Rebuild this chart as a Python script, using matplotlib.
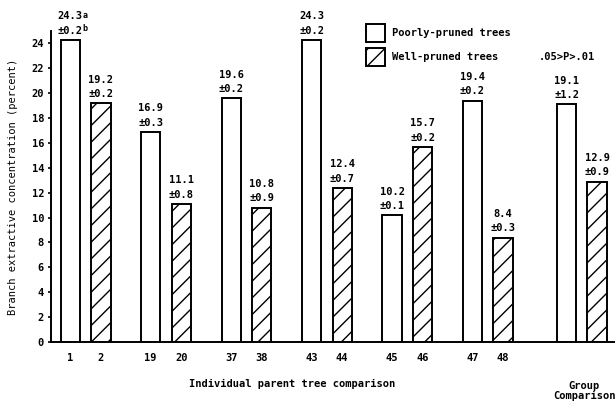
import matplotlib
matplotlib.use("Agg")
import matplotlib.pyplot as plt
import numpy as np
from matplotlib.patches import Patch

plt.rcParams['font.family'] = 'DejaVu Sans Mono'
plt.rcParams['font.weight'] = 'bold'
plt.rcParams['font.size'] = 7.5
plt.rcParams['hatch.linewidth'] = 1.0

# data
poor_ids = ['1', '19', '37', '43', '45', '47']
well_ids = ['2', '20', '38', '44', '46', '48']
poor_vals = [24.3, 16.9, 19.6, 24.3, 10.2, 19.4]
poor_err = [0.2, 0.3, 0.2, 0.2, 0.1, 0.2]
well_vals = [19.2, 11.1, 10.8, 12.4, 15.7, 8.4]
well_err = [0.2, 0.8, 0.9, 0.7, 0.2, 0.3]
group_vals = [19.1, 12.9]
group_err = [1.2, 0.9]

fig = plt.figure(figsize=(6.16, 4.05), dpi=100)
ax = fig.add_axes([51/616, 63/405, 563/616, 311/405])

pair_x = np.arange(len(poor_vals))
group_x = 6.17
off = 0.19
w = 0.24

def bars(xs, vals, errs, hatched):
    ax.bar(xs, vals, width=w, facecolor='white', edgecolor='black',
           linewidth=1.4, hatch='//' if hatched else None)
    for x, v, e in zip(xs, vals, errs):
        ax.annotate(f"{v:.1f}\n±{e:.1f}", (x, v), xytext=(0, 3),
                    textcoords='offset points', ha='center', va='bottom',
                    linespacing=1.55)

bars(pair_x - off, poor_vals, poor_err, False)
bars(pair_x + off, well_vals, well_err, True)
bars([group_x - off], group_vals[:1], group_err[:1], False)
bars([group_x + off], group_vals[1:], group_err[1:], True)

# superscripts on first label
ax.annotate("a", (pair_x[0] - off, poor_vals[0]), xytext=(9, 14.5),
            textcoords='offset points', fontsize=6, va='bottom')
ax.annotate("b", (pair_x[0] - off, poor_vals[0]), xytext=(9, 4.5),
            textcoords='offset points', fontsize=6, va='bottom')

ax.set_xlim(-0.43, 6.57)
ax.set_ylim(0, 25)
ax.set_yticks(range(0, 25, 2))
ax.set_xticks(np.concatenate([pair_x - off, pair_x + off]))
ax.set_xticklabels(poor_ids + well_ids)
ax.tick_params(axis='x', length=0, pad=8)
ax.tick_params(axis='y', length=2, width=1.2, pad=3)
for s in ['top', 'right']:
    ax.spines[s].set_visible(False)
for s in ['left', 'bottom']:
    ax.spines[s].set_linewidth(1.4)

ax.set_ylabel('Branch extractive concentration (percent)', labelpad=10)
fig.text(292/616, 1 - 384/405, 'Individual parent tree comparison',
         ha='center', va='center')
fig.text(584/616, 1 - 391/405, 'Group\nComparison', ha='center',
         va='center', linespacing=1.1)
ax.text(group_x - 0.18, 22.9, '.05>P>.01', ha='center', va='center')

handles = [Patch(facecolor='white', edgecolor='black', linewidth=1.4),
           Patch(facecolor='white', edgecolor='black', linewidth=1.4, hatch='//')]
ax.legend(handles, ['Poorly-pruned trees', 'Well-pruned trees'],
          loc='upper left', bbox_to_anchor=(366/616, 1 - 24/405),
          bbox_transform=fig.transFigure, frameon=False, borderpad=0,
          borderaxespad=0, handlelength=1.8, handleheight=2.25,
          labelspacing=0.6, handletextpad=0.7)

fig.savefig('out.png', dpi=100)
